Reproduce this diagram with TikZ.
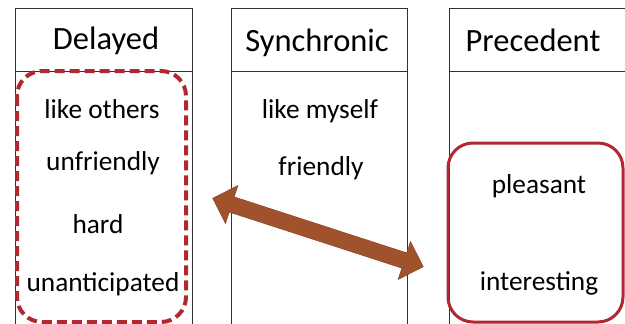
\documentclass[tikz,border=0pt]{standalone}
\usepackage{fontspec}
\setmainfont{Carlito}
\definecolor{boxred}{RGB}{178,40,48}
\definecolor{arrowbrown}{RGB}{160,82,45}
\definecolor{gridgrey}{RGB}{50,50,50}
\begin{document}
\begin{tikzpicture}[x=1pt,y=-1pt,
  gridline/.style={draw=gridgrey,line width=0.9pt},
  headtext/.style={font=\fontsize{32.5}{36}\selectfont,inner sep=0pt,anchor=base},
  bodytext/.style={font=\fontsize{27.3}{31}\selectfont,inner sep=0pt,anchor=base},
  dashbox/.style={draw=boxred,line width=4pt,rounded corners=25pt,dash pattern=on 10pt off 5pt},
  solidbox/.style={draw=boxred,line width=3pt,rounded corners=25pt},
  bigarrow/.style={fill=arrowbrown,draw=arrowbrown!85!black,line width=0.5pt,line join=miter}]
\useasboundingbox (0,0) rectangle (625,324);
% columns
\draw[gridline] (15,330) -- (15,8) -- (192,8) -- (192,330);
\draw[gridline] (15,71) -- (192,71);
\draw[gridline] (231,330) -- (231,8) -- (407,8) -- (407,330);
\draw[gridline] (231,71) -- (407,71);
\draw[gridline] (449,330) -- (449,8) -- (630,8);
\draw[gridline] (449,71) -- (630,71);
% headers
\node[headtext] (hdel) at (106,49) {Delayed};
\node[headtext] (hsyn) at (317,51) {Synchronic};
\node[headtext] (hpre) at (533,51) {Precedent};
% delayed items
\node[bodytext] (d1) at (102,118) {like others};
\node[bodytext] (d2) at (103,170) {unfriendly};
\node[bodytext] (d3) at (98,233) {hard};
\node[bodytext] (d4) at (103,291) {unanticipated};
% synchronic items
\node[bodytext] (s1) at (320,118) {like myself};
\node[bodytext] (s2) at (321,175) {friendly};
% precedent items
\node[bodytext] (p1) at (539,193) {pleasant};
\node[bodytext] (p2) at (539,290) {interesting};
% boxes
\draw[dashbox] (17,71) rectangle (186,322);
\draw[solidbox] (448,143) rectangle (623,322);
% double arrow
\coordinate (tipL) at (212.7,198.3);
\coordinate (tipR) at (423.3,266.7);
\filldraw[bigarrow] (tipL) -- (237.9,185.5) -- (234.2,196.9) -- (406.8,252.9) -- (410.5,241.5)
  -- (tipR) -- (398.1,279.5) -- (401.8,268.1) -- (229.2,212.1) -- (225.5,223.5) -- cycle;
\end{tikzpicture}
\end{document}
